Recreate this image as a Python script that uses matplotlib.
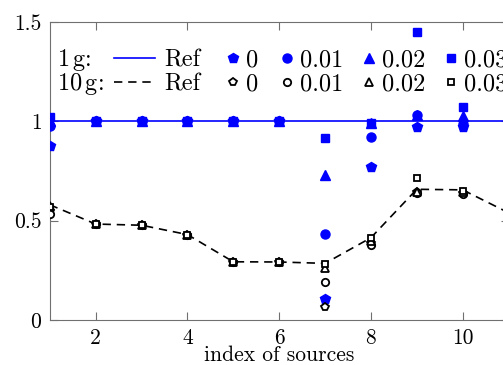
import matplotlib.pyplot as plt
from matplotlib.lines import Line2D

plt.rcParams['font.family'] = 'cmr10'
plt.rcParams['mathtext.fontset'] = 'cm'
plt.rcParams['axes.unicode_minus'] = False
plt.rcParams['font.size'] = 15.5

# data
x = [1, 2, 3, 4, 5, 6, 7, 8, 9, 10]
x_ref = [1, 2, 3, 4, 5, 6, 7, 8, 9, 10, 11]

ref_1g = [1.0, 1.0, 1.0, 1.0, 1.0, 1.0, 1.0, 1.0, 1.0, 1.0, 1.0]
ref_10g = [0.58, 0.483, 0.477, 0.43, 0.293, 0.292, 0.285, 0.414, 0.658, 0.655, 0.54]

# 1 g, noise levels 0 / 0.01 / 0.02 / 0.03
g1_n0 = [0.877, 1.0, 1.0, 1.0, 1.0, 1.0, 0.106, 0.771, 0.97, 0.973]
g1_n1 = [0.978, 1.0, 1.0, 1.0, 1.0, 1.0, 0.433, 0.922, 1.032, 0.986]
g1_n2 = [1.0, 1.0, 1.0, 1.0, 1.0, 1.0, 0.73, 0.99, 1.03, 1.028]
g1_n3 = [1.023, 1.0, 1.0, 1.0, 1.0, 1.0, 0.917, 0.99, 1.449, 1.073]

# 10 g
g10_n0 = [0.55, 0.483, 0.477, 0.43, 0.293, 0.292, 0.067, 0.39, 0.645, 0.64]
g10_n1 = [0.535, 0.483, 0.477, 0.43, 0.293, 0.292, 0.193, 0.377, 0.638, 0.632]
g10_n2 = [0.575, 0.483, 0.477, 0.43, 0.293, 0.292, 0.263, 0.40, 0.645, 0.645]
g10_n3 = [0.57, 0.483, 0.477, 0.43, 0.293, 0.292, 0.283, 0.414, 0.716, 0.65]

noise_labels = ['0', '0.01', '0.02', '0.03']
markers = ['p', 'o', '^', 's']
sizes = [7, 6.5, 6.5, 6.2]

blue = '#0000ff'
axcol = '#707070'
fs = 15.5      # axis text
lfs = 17.5     # legend text
W, H = 503, 365

fig = plt.figure(figsize=(5.03, 3.65), dpi=100)
ax = fig.add_axes([0.099, 0.1233, 0.912, 0.8164])

ax.plot(x_ref, ref_1g, color=blue, lw=1.2, zorder=2)
ax.plot(x_ref, ref_10g, color='black', lw=1.2, ls=(0, (5, 3.5)), zorder=2)

h1 = []
for vals, m, s in zip([g1_n0, g1_n1, g1_n2, g1_n3], markers, sizes):
    ax.plot(x, vals, ls='none', marker=m, ms=s, color=blue, mec=blue, zorder=3)
    h1.append(Line2D([], [], ls='none', marker=m, ms=s, color=blue, mec=blue))

h10 = []
for vals, m, s in zip([g10_n0, g10_n1, g10_n2, g10_n3], markers, sizes):
    ax.plot(x, vals, ls='none', marker=m, ms=s - 1.2, mfc='white', mec='black',
            mew=1.3, zorder=3)
    h10.append(Line2D([], [], ls='none', marker=m, ms=s - 1.2, mfc='white',
                      mec='black', mew=1.3))

ax.set_xlim(1, 11)
ax.set_ylim(0, 1.5)
ax.set_xticks([2, 4, 6, 8, 10])
ax.set_yticks([0, 0.5, 1, 1.5])
ax.set_yticklabels(['0', '0.5', '1', '1.5'])
ax.tick_params(direction='in', length=6, width=0.8, color=axcol, pad=6,
               top=True, right=True, labelsize=fs)
for sp in ax.spines.values():
    sp.set_color(axcol)
    sp.set_linewidth(0.8)
ax.set_xlabel('index of sources', fontsize=fs, labelpad=-1.5)

# legend: row titles, Ref lines, one small legend per noise level
fig.text(57 / W, 1 - 66 / H, r'$1\,\mathrm{g}$:', fontsize=lfs, va='baseline', ha='left')
fig.text(57 / W, 1 - 90 / H, r'$10\,\mathrm{g}$:', fontsize=lfs, va='baseline', ha='left')

leg_top = 1 - 49 / H
ref_handles = [Line2D([], [], color=blue, lw=1.2),
               Line2D([], [], color='black', lw=1.2, ls=(0, (5, 3.5)))]
fig.legend(ref_handles, ['Ref', 'Ref'], ncol=1, frameon=False,
           loc='upper left', bbox_to_anchor=(114 / W, leg_top),
           borderpad=0, borderaxespad=0, handlelength=1.7,
           handletextpad=0.38, labelspacing=0.11, fontsize=lfs)

col_left = [225.6, 279.6, 362.2, 443.4]
for a, b, lab, xl in zip(h1, h10, noise_labels, col_left):
    fig.legend([a, b], [lab, lab], ncol=1, frameon=False,
               loc='upper left', bbox_to_anchor=(xl / W, leg_top),
               borderpad=0, borderaxespad=0, handlelength=0.6,
               handletextpad=0.23, labelspacing=0.11, fontsize=lfs)

fig.savefig('out.png', dpi=100)
